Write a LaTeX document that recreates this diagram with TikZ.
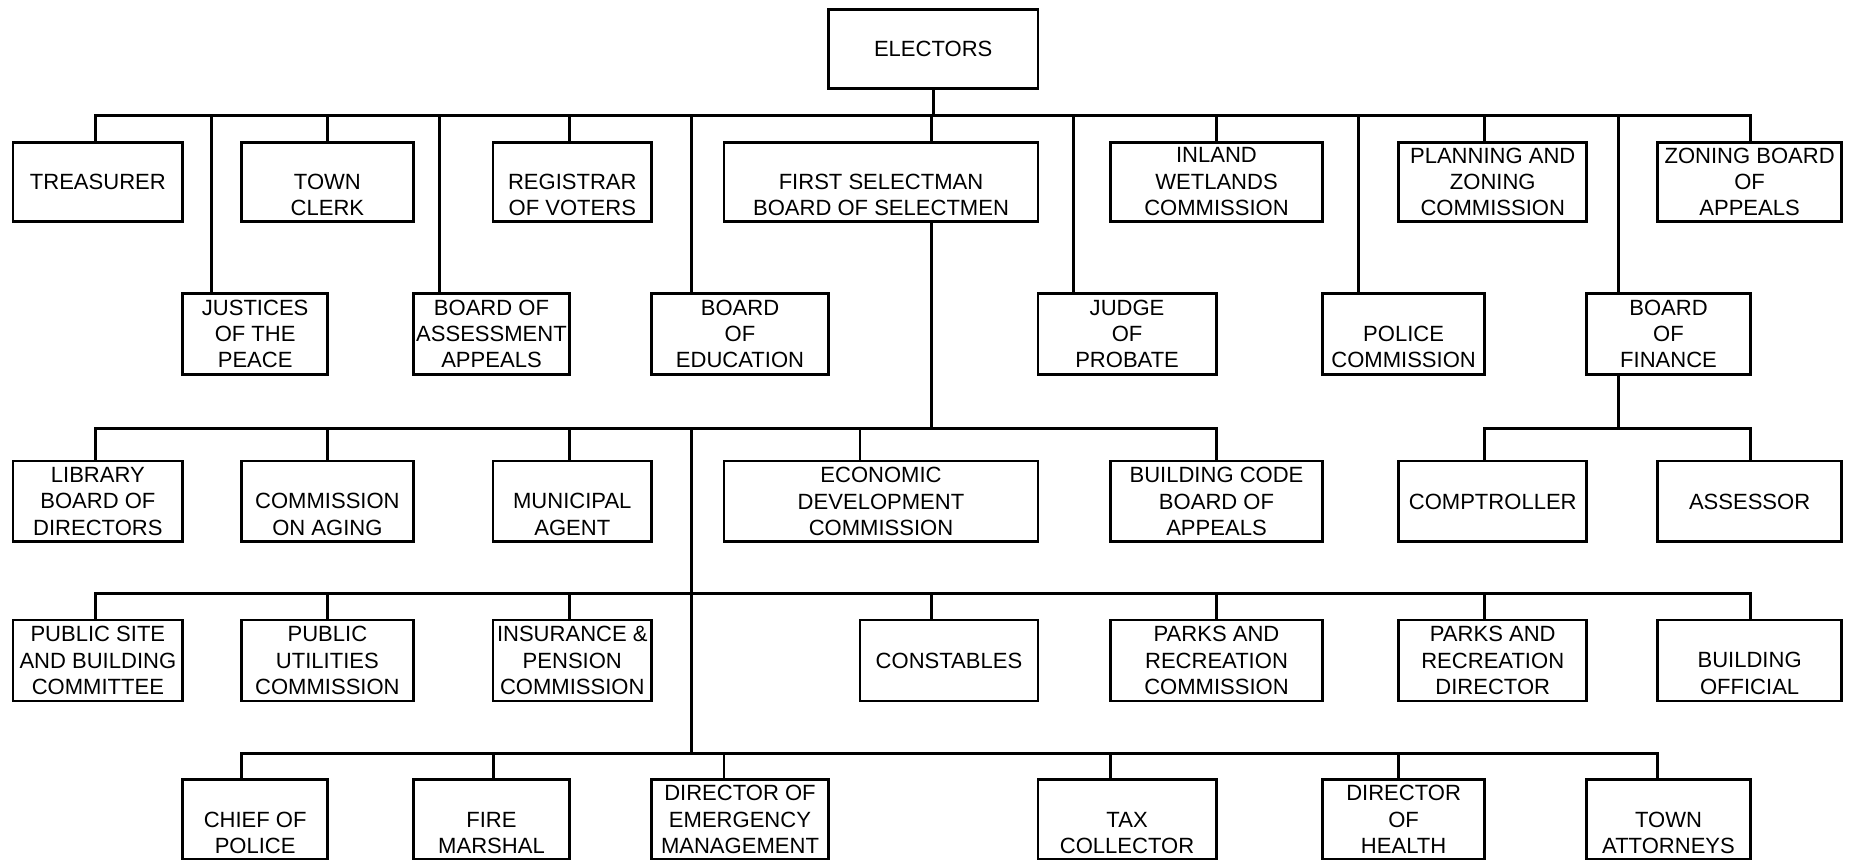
\documentclass[tikz,border=0pt]{standalone}
\usepackage{fontspec}
\setmainfont{Liberation Sans}
\newcommand{\orgbox}[6]{%
  \pgfmathsetmacro{\orgW}{(#3-#2)*0.6}%
  \pgfmathsetmacro{\orgH}{(#5-#4)*0.6}%
  \node[box, minimum width=\orgW pt, minimum height=\orgH pt] (#1) at ({(#2+#3)/2},{(#4+#5)/2}) {#6};}
\newcommand{\ph}{\phantom{X}}
\begin{document}
\begin{tikzpicture}[x=0.6pt, y=-0.6pt,
  box/.style={draw, line width=1.5pt, inner sep=0pt, align=center, font=\fontsize{11.2}{13.4}\selectfont},
  conn/.style={line width=1.5pt, line cap=rect}]
\useasboundingbox (0,0) rectangle (1568,728.5);
% row 0
\orgbox{el}{701.7}{879.3}{7.9}{74.8}{ELECTORS}
% row 1
\orgbox{tre}{11}{154.8}{120.5}{187.5}{TREASURER}
\orgbox{tc}{204.3}{350.4}{120.5}{187.5}{\ph\\TOWN\\CLERK}
\orgbox{reg}{417.6}{552}{120.5}{187.5}{\ph\\REGISTRAR\\OF VOTERS}
\orgbox{fs}{613.3}{879.3}{120.5}{187.5}{\ph\\FIRST SELECTMAN\\BOARD OF SELECTMEN}
\orgbox{iw}{940.5}{1120.5}{120.5}{187.5}{INLAND\\WETLANDS\\COMMISSION}
\orgbox{pz}{1184.8}{1344.2}{120.5}{187.5}{PLANNING AND\\ZONING\\COMMISSION}
\orgbox{zba}{1403.9}{1560.3}{120.5}{187.5}{ZONING BOARD\\OF\\APPEALS}
% row 2
\orgbox{jp}{154.6}{277.7}{248.5}{317}{JUSTICES\\OF THE\\PEACE}
\orgbox{baa}{350.4}{482.3}{248.5}{317}{BOARD OF\\ASSESSMENT\\APPEALS}
\orgbox{boe}{552}{701.7}{248.5}{317}{BOARD\\OF\\EDUCATION}
\orgbox{jop}{879.3}{1030.2}{248.5}{317}{JUDGE\\OF\\PROBATE}
\orgbox{pc}{1120.5}{1257.5}{248.5}{317}{\ph\\POLICE\\COMMISSION}
\orgbox{bof}{1344.2}{1482.6}{248.5}{317}{BOARD\\OF\\FINANCE}
% row 3
\orgbox{lib}{11}{154.8}{390.5}{459}{LIBRARY\\BOARD OF\\DIRECTORS}
\orgbox{coa}{204.3}{350.4}{390.5}{459}{\ph\\COMMISSION\\ON AGING}
\orgbox{ma}{417.6}{552}{390.5}{459}{\ph\\MUNICIPAL\\AGENT}
\orgbox{edc}{613.3}{879.3}{390.5}{459}{ECONOMIC\\DEVELOPMENT\\COMMISSION}
\orgbox{bcb}{940.5}{1120.5}{390.5}{459}{BUILDING CODE\\BOARD OF\\APPEALS}
\orgbox{comp}{1184.8}{1344.2}{390.5}{459}{COMPTROLLER}
\orgbox{ass}{1403.9}{1560.3}{390.5}{459}{ASSESSOR}
% row 4
\orgbox{psb}{11}{154.8}{525.2}{593.8}{PUBLIC SITE\\AND BUILDING\\COMMITTEE}
\orgbox{puc}{204.3}{350.4}{525.2}{593.8}{PUBLIC\\UTILITIES\\COMMISSION}
\orgbox{ipc}{417.6}{552}{525.2}{593.8}{INSURANCE \&\\PENSION\\COMMISSION}
\orgbox{con}{728.5}{879.3}{525.2}{593.8}{CONSTABLES}
\orgbox{prc}{940.5}{1120.5}{525.2}{593.8}{PARKS AND\\RECREATION\\COMMISSION}
\orgbox{prd}{1184.8}{1344.2}{525.2}{593.8}{PARKS AND\\RECREATION\\DIRECTOR}
\orgbox{bo}{1403.9}{1560.3}{525.2}{593.8}{\ph\\BUILDING\\OFFICIAL}
% row 5
\orgbox{cop}{154.6}{277.7}{660.7}{727.9}{\ph\\CHIEF OF\\POLICE}
\orgbox{fm}{350.4}{482.3}{660.7}{727.9}{\ph\\FIRE\\MARSHAL}
\orgbox{dem}{552}{701.7}{660.7}{727.9}{DIRECTOR OF\\EMERGENCY\\MANAGEMENT}
\orgbox{tax}{879.3}{1030.2}{660.7}{727.9}{\ph\\TAX\\COLLECTOR}
\orgbox{doh}{1120.5}{1257.5}{660.7}{727.9}{DIRECTOR\\OF\\HEALTH}
\orgbox{ta}{1344.2}{1482.6}{660.7}{727.9}{\ph\\TOWN\\ATTORNEYS}
% bus 0 (electors)
\coordinate (b0L) at (81,98);
\coordinate (b0R) at (1482.6,98);
\draw[conn] (b0L) -- (b0R);
\draw[conn] (el.south) -- (el.south |- b0L);
\foreach \n/\x in {tre/81, tc/277.3, reg/482.3, fs/789.2, iw/1030.3, pz/1257.5, zba/1482.6,
                   jp/179, baa/372.5, boe/585.9, jop/909.4, pc/1150.6, bof/1371}{
  \coordinate (j0\n) at (\x,98);
  \draw[conn] (j0\n) -- (j0\n |- \n.north);
}
% bus 2 (first selectman)
\coordinate (b2L) at (81,362.8);
\coordinate (b2R) at (1030.3,362.8);
\coordinate (b2J) at (789.2,362.8);
\draw[conn] (b2L) -- (b2R);
\draw[conn] (fs.south -| b2J) -- (b2J);
\foreach \n/\x in {lib/81, coa/277.3, ma/482.3, edc/728.5, bcb/1030.3}{
  \coordinate (j2\n) at (\x,362.8);
  \draw[conn] (j2\n) -- (j2\n |- \n.north);
}
% trunk
\coordinate (tr2) at (585.9,362.8);
\coordinate (tr3) at (585.9,503);
\coordinate (tr4) at (585.9,638.1);
\draw[conn] (tr2) -- (tr4);
% bus 3
\coordinate (b3L) at (81,503);
\coordinate (b3R) at (1482.6,503);
\draw[conn] (b3L) -- (b3R);
\foreach \n/\x in {psb/81, puc/277.3, ipc/482.3, con/789.2, prc/1030.3, prd/1257.5, bo/1482.6}{
  \coordinate (j3\n) at (\x,503);
  \draw[conn] (j3\n) -- (j3\n |- \n.north);
}
% bus 4
\coordinate (b4L) at (204.3,638.1);
\coordinate (b4R) at (1404,638.1);
\draw[conn] (b4L) -- (b4R);
\foreach \n/\x in {cop/204.3, fm/418, dem/613.3, tax/940.5, doh/1184.5, ta/1404}{
  \coordinate (j4\n) at (\x,638.1);
  \draw[conn] (j4\n) -- (j4\n |- \n.north);
}
% board of finance
\coordinate (bfJ) at (1371,362.8);
\coordinate (bfL) at (1257.5,362.8);
\coordinate (bfR) at (1482.6,362.8);
\draw[conn] (bof.south -| bfJ) -- (bfJ);
\draw[conn] (bfL) -- (bfR);
\draw[conn] (bfL) -- (bfL |- comp.north);
\draw[conn] (bfR) -- (bfR |- ass.north);
\end{tikzpicture}
\end{document}
